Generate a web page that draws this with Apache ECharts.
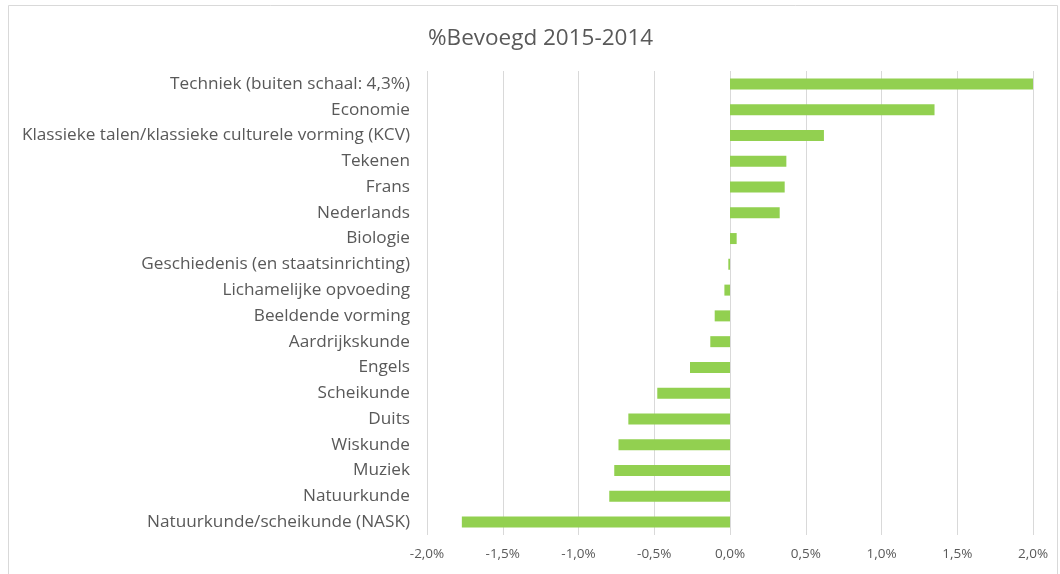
<!DOCTYPE html>
<html><head><meta charset="utf-8">
<script src="https://cdn.jsdelivr.net/npm/echarts@6/dist/echarts.min.js"></script>
<style>html,body{margin:0;padding:0;background:#fff}#c{width:1060px;height:574px}</style>
</head><body><div id="c"></div>
<script>
const categories = [
  "Techniek (buiten schaal: 4,3%)",
  "Economie",
  "Klassieke talen/klassieke culturele vorming (KCV)",
  "Tekenen",
  "Frans",
  "Nederlands",
  "Biologie",
  "Geschiedenis (en staatsinrichting)",
  "Lichamelijke opvoeding",
  "Beeldende vorming",
  "Aardrijkskunde",
  "Engels",
  "Scheikunde",
  "Duits",
  "Wiskunde",
  "Muziek",
  "Natuurkunde",
  "Natuurkunde/scheikunde (NASK)"
];
const values = [4.3, 1.35, 0.62, 0.372, 0.361, 0.328, 0.044, -0.011, -0.037, -0.101, -0.13, -0.264, -0.48, -0.671, -0.736, -0.764, -0.797, -1.77];
const xTicks = { min: -2, max: 2, interval: 0.5 };
const title = "%Bevoegd 2015-2014";

const font = "'Open Sans', 'Liberation Sans', Arial, sans-serif";
const chart = echarts.init(document.getElementById('c'), null, {renderer: 'canvas'});
chart.setOption({
  animation: false,
  backgroundColor: '#fff',
  graphic: [{
    type: 'rect', left: 6, top: 3, shape: {width: 1049, height: 600},
    style: {fill: 'none', stroke: '#d9d9d9', lineWidth: 1}, silent: true
  }],
  title: {
    text: title, left: 423, top: 22,
    textStyle: {fontFamily: font, fontSize: 22.5, fontWeight: 'normal', color: '#595959'}
  },
  grid: {left: 427, right: 27, top: 71, bottom: 39, containLabel: false},
  xAxis: {
    type: 'value', min: xTicks.min, max: xTicks.max, interval: xTicks.interval,
    axisLine: {show: false}, axisTick: {show: false},
    splitLine: {show: true, lineStyle: {color: '#d9d9d9', width: 1}},
    axisLabel: {
      fontFamily: font, fontSize: 13.5, color: '#595959', margin: 12,
      formatter: v => v.toFixed(1).replace('.', ',') + '%'
    }
  },
  yAxis: {
    type: 'category', data: categories, inverse: true,
    axisLine: {show: false, onZero: false}, axisTick: {show: false},
    axisLabel: {fontFamily: font, fontSize: 17.2, color: '#595959', margin: 17}
  },
  series: [{
    type: 'bar', data: values, barWidth: 11, clip: true,
    itemStyle: {color: '#92d050'}
  }]
});
</script></body></html>
